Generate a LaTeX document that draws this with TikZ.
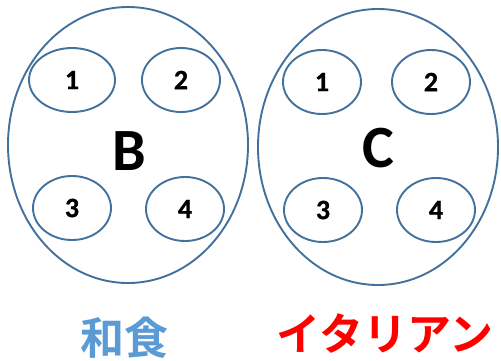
\documentclass[tikz,border=0pt]{standalone}
\usepackage{fontspec}
\setmainfont{Carlito}
\newfontfamily\heavyfont{Carlito}[UprightFont={* Bold}, FakeBold=0.8]
\newfontfamily\jpfont{Noto Sans CJK JP}[BoldFont={* Bold}]
\usetikzlibrary{shapes.geometric}
\definecolor{edge}{RGB}{65,113,156}
\definecolor{wablue}{RGB}{91,155,213}
\tikzset{
  big/.style={ellipse, draw=edge, line width=1.9pt, minimum width=240pt, minimum height=276pt, inner sep=0pt},
  small/.style={ellipse, draw=edge, line width=1.9pt, minimum width=78pt, minimum height=64pt, inner sep=0pt, font=\heavyfont\fontsize{28}{28}\selectfont},
  letter/.style={font=\bfseries\fontsize{60}{60}\selectfont, inner sep=0pt},
  label/.style={font=\jpfont\bfseries\fontsize{44}{44}\selectfont, inner sep=0pt}
}
\begin{document}
\begin{tikzpicture}[x=1pt,y=-1pt]
\useasboundingbox (0,0) rectangle (501,360);
\node[big] (Bo) at (128,145) {};
\node[big] (Co) at (378,147) {};
\node[small, minimum width=86pt] (b1) at (72,80) {1};
\node[small] (b2) at (181,80) {2};
\node[small] (b3) at (72,208) {3};
\node[small] (b4) at (185,209) {4};
\node[letter] (B) at (129,151) {B};
\node[small] (c1) at (322,82) {1};
\node[small] (c2) at (431,82) {2};
\node[small] (c3) at (323,210) {3};
\node[small] (c4) at (436,210) {4};
\node[letter] (C) at (378,148) {C};
\node[label, text=wablue] (wa) at (124,338) {和食};
\node[label, text=red] (it) at (385,334) {イタリアン};
\end{tikzpicture}
\end{document}
